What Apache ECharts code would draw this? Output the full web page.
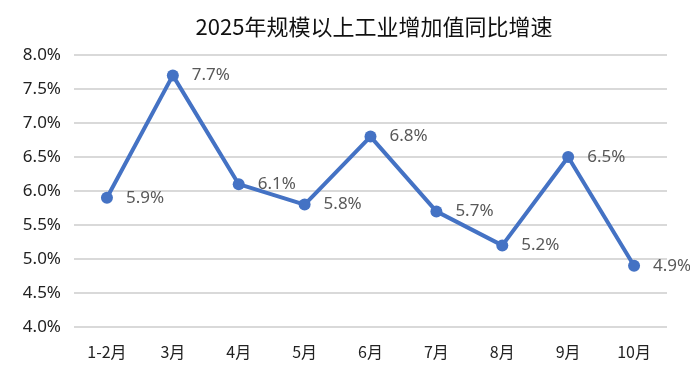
<!DOCTYPE html>
<html>
<head>
<meta charset="utf-8">
<script src="https://cdn.jsdelivr.net/npm/echarts@6/dist/echarts.min.js"></script>
<style>
  html, body { margin: 0; padding: 0; background: #fff; }
  #chart { width: 690px; height: 376px; }
</style>
</head>
<body>
<div id="chart"></div>
<script>
const categories = ['1-2月', '3月', '4月', '5月', '6月', '7月', '8月', '9月', '10月'];
const growth = [5.9, 7.7, 6.1, 5.8, 6.8, 5.7, 5.2, 6.5, 4.9];

const chart = echarts.init(document.getElementById('chart'));

const option = {
    backgroundColor: '#fff',
    title: {
        text: '2025年规模以上工业增加值同比增速',
        left: 369,
        textAlign: 'center',
        top: 11,
        textStyle: {
            fontFamily: 'Noto Sans CJK SC',
            fontSize: 22,
            fontWeight: 'normal',
            color: '#111'
        }
    },
    grid: { left: 74, right: 23, top: 55, bottom: 49 },
    xAxis: {
        type: 'category',
        data: categories,
        boundaryGap: true,
        axisLine: { show: false },
        axisTick: { show: false },
        axisLabel: {
            margin: 17,
            fontSize: 16,
            color: '#222',
            fontFamily: 'Noto Sans CJK SC'
        }
    },
    yAxis: {
        type: 'value',
        min: 4,
        max: 8,
        interval: 0.5,
        axisLine: { show: false },
        axisTick: { show: false },
        axisLabel: {
            margin: 13,
            fontSize: 17,
            color: '#222',
            fontFamily: 'Noto Sans',
            formatter: v => v.toFixed(1) + '%'
        },
        splitLine: { lineStyle: { color: '#d9d9d9', width: 2 } }
    },
    series: [
        {
            type: 'line',
            data: growth,
            symbol: 'circle',
            symbolSize: 12,
            lineStyle: { color: '#4472c4', width: 4 },
            itemStyle: { color: '#4472c4' },
            label: {
                show: true,
                position: 'right',
                distance: 13,
                fontSize: 17,
                color: '#595959',
                fontFamily: 'Noto Sans',
                formatter: p => p.value.toFixed(1) + '%'
            },
            animation: false
        }
    ]
};

chart.setOption(option);
</script>
</body>
</html>
